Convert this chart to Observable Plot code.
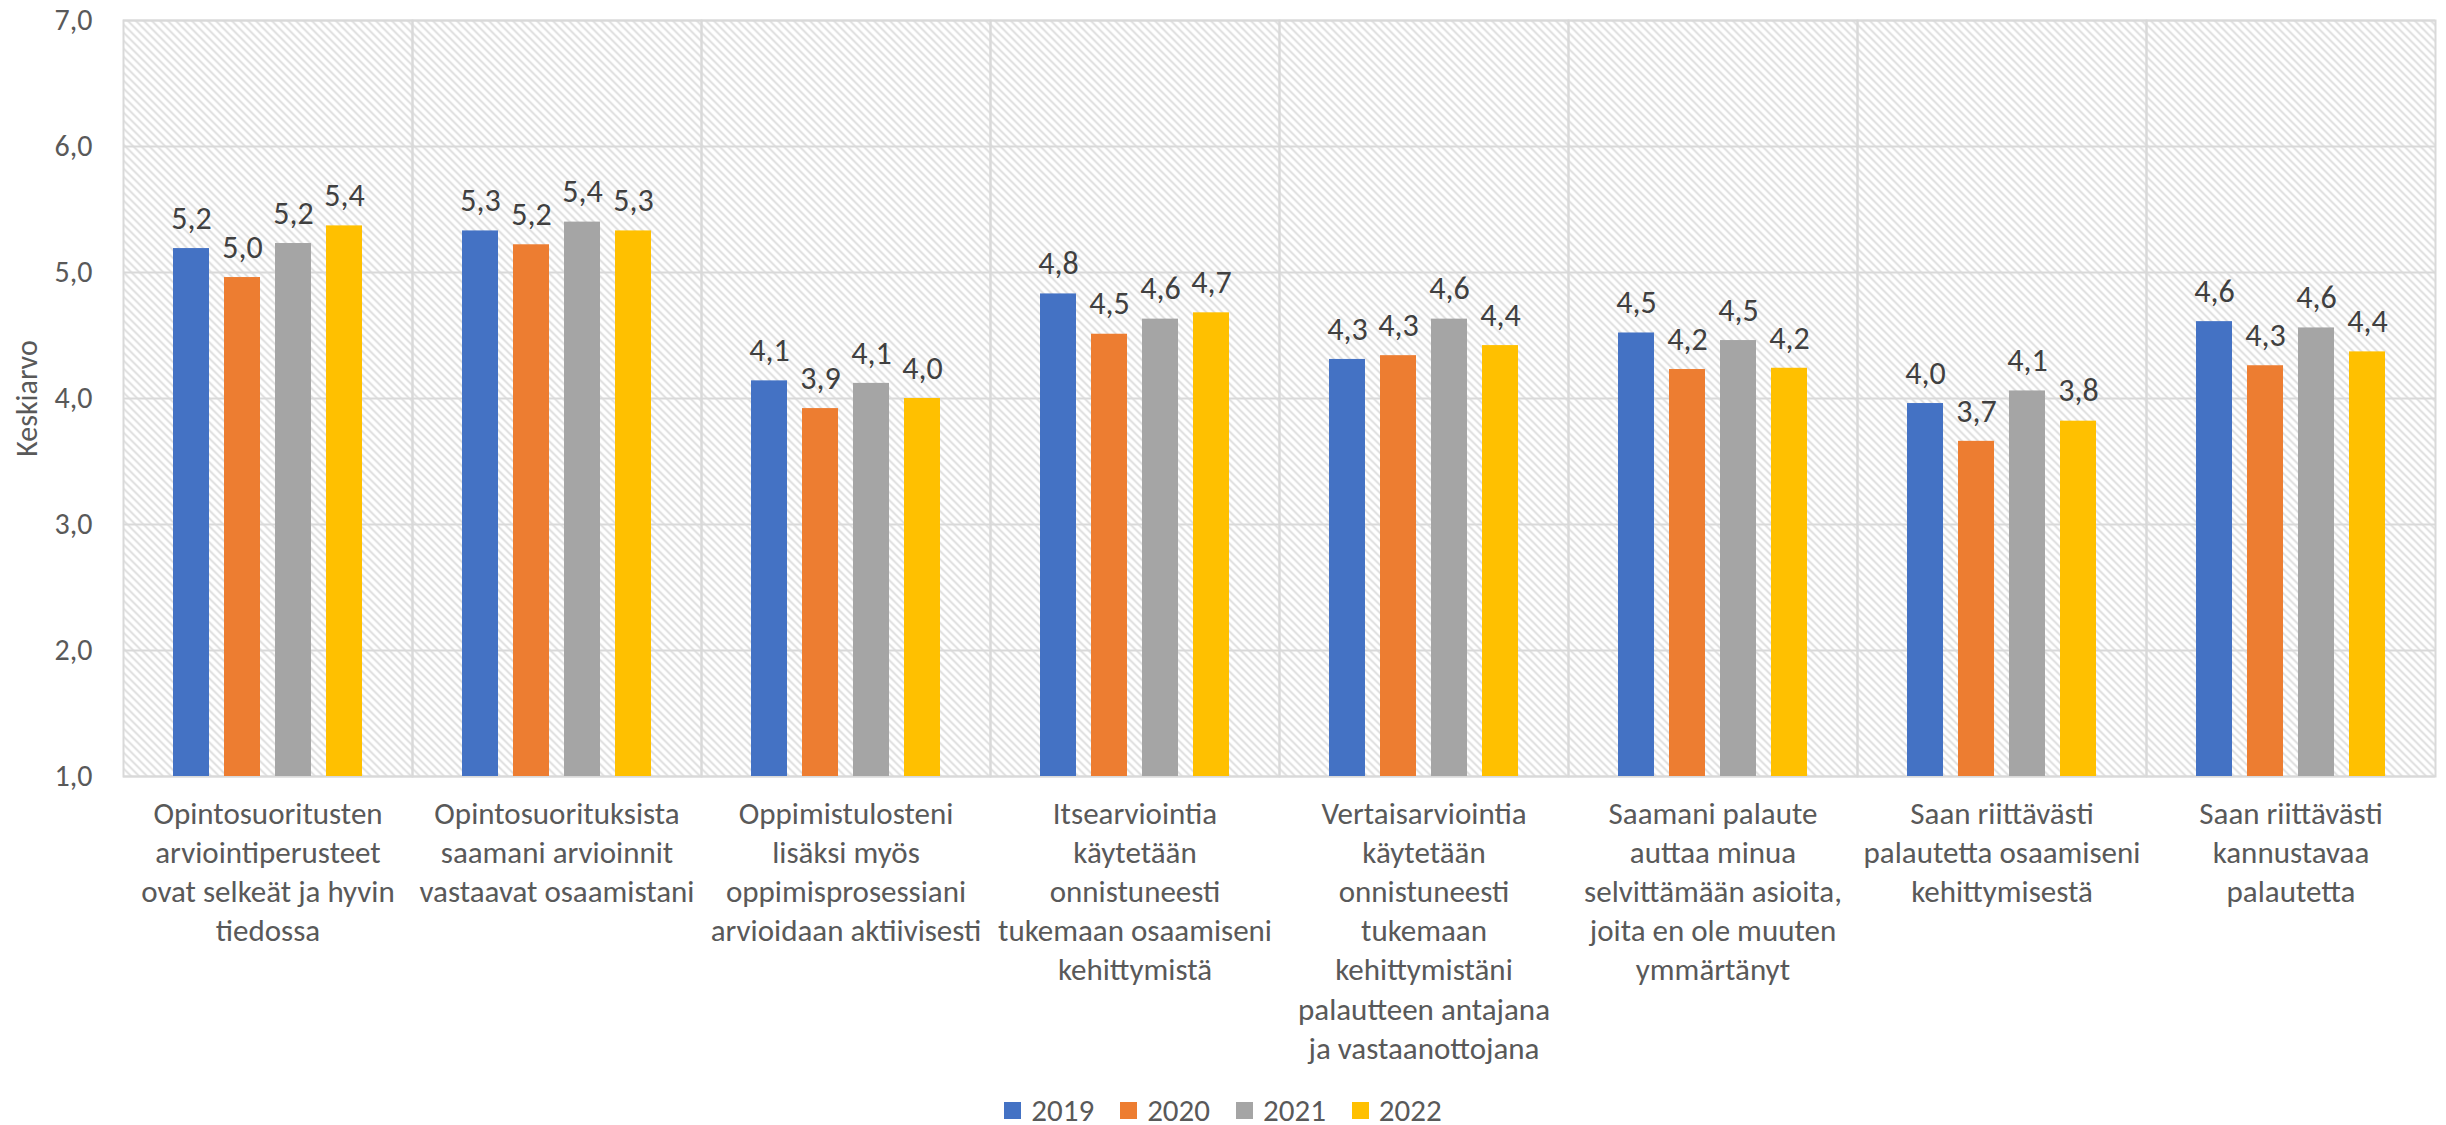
<!DOCTYPE html>
<html>
<head>
<meta charset="utf-8">
<script src="https://cdn.jsdelivr.net/npm/d3@7"></script>
<script src="https://cdn.jsdelivr.net/npm/@observablehq/plot@0.6"></script>
<style>
  body { margin: 0; background: #fff; font-family: Calibri, Carlito, Lato, sans-serif; }
  #chart svg { display: block; }
  #legend { display: flex; justify-content: center; align-items: center; height: 30px; padding-top: 5px;
            font-family: Calibri, Carlito, Lato, sans-serif; font-size: 31px; color: #595959; }
  #legend .item { display: flex; align-items: center; margin: 0 13px; }
  #legend .sw { width: 17px; height: 17px; margin-right: 10px; }
</style>
</head>
<body>
<div id="chart"></div>
<div id="legend"></div>
<script>
const categories = [
  "Opintosuoritusten\narviointiperusteet\novat selkeät ja hyvin\ntiedossa",
  "Opintosuorituksista\nsaamani arvioinnit\nvastaavat osaamistani",
  "Oppimistulosteni\nlisäksi myös\noppimisprosessiani\narvioidaan aktiivisesti",
  "Itsearviointia\nkäytetään\nonnistuneesti\ntukemaan osaamiseni\nkehittymistä",
  "Vertaisarviointia\nkäytetään\nonnistuneesti\ntukemaan\nkehittymistäni\npalautteen antajana\nja vastaanottojana",
  "Saamani palaute\nauttaa minua\nselvittämään asioita,\njoita en ole muuten\nymmärtänyt",
  "Saan riittävästi\npalautetta osaamiseni\nkehittymisestä",
  "Saan riittävästi\nkannustavaa\npalautetta"
];
const years = ["2019", "2020", "2021", "2022"];
const colors = ["#4472C4", "#ED7D31", "#A5A5A5", "#FFC000"];
const v2019 = [5.19, 5.33, 4.14, 4.83, 4.31, 4.52, 3.96, 4.61];
const v2020 = [4.96, 5.22, 3.92, 4.51, 4.34, 4.23, 3.66, 4.26];
const v2021 = [5.23, 5.40, 4.12, 4.63, 4.63, 4.46, 4.06, 4.56];
const v2022 = [5.37, 5.33, 4.00, 4.68, 4.42, 4.24, 3.82, 4.37];
const yTicks = [1, 2, 3, 4, 5, 6, 7];
const yLabel = "Keskiarvo";

const series = [v2019, v2020, v2021, v2022];
const data = [];
categories.forEach((c, i) => {
  years.forEach((y, j) => data.push({category: c, year: y, value: series[j][i]}));
});
const fmt = d => d.toFixed(1).replace(".", ",");
const yMin = yTicks[0];
const font = "Calibri, Carlito, Lato, sans-serif";

const chart = Plot.plot({
  width: 2446,
  height: 1090,
  marginLeft: 120,
  marginRight: 9,
  marginTop: 20,
  marginBottom: 314,
  style: {fontFamily: font, fontSize: "30px", background: "#fff"},
  fx: {domain: categories, paddingInner: 0, paddingOuter: 0, axis: null, label: null},
  x: {domain: years, paddingInner: 0.3, paddingOuter: 0.94, axis: null},
  y: {domain: [yTicks[0], yTicks[yTicks.length - 1]], axis: null},
  color: {domain: years, range: colors},
  marks: [
    Plot.frame({fill: "url(#hatch)"}),
    Plot.gridY(yTicks, {stroke: "#d9d9d9", strokeOpacity: 1, strokeWidth: 2}),
    Plot.frame({stroke: "#d9d9d9", strokeWidth: 2}),
    Plot.barY(data, {fx: "category", x: "year", y1: () => yMin, y2: "value", fill: "year"}),
    Plot.text(data, {fx: "category", x: "year", y: "value", text: d => fmt(d.value),
      dy: -30, fontSize: 32, fill: "#404040"}),
    Plot.axisY(yTicks, {tickFormat: fmt, tickSize: 0, tickPadding: 31, fontSize: 30, color: "#595959",
      label: yLabel, labelAnchor: "center", labelOffset: 108, labelArrow: "none"}),
    Plot.axisFx({anchor: "bottom", tickSize: 0, tickPadding: 20, fontSize: 31, color: "#595959",
      lineHeight: 1.26, lineAnchor: "top", label: null})
  ]
});

const svg = d3.select(chart.tagName.toLowerCase() === "svg" ? chart : chart.querySelector("svg"));
const defs = svg.insert("defs", ":first-child");
const pat = defs.append("pattern").attr("id", "hatch").attr("patternUnits", "userSpaceOnUse")
  .attr("width", 8).attr("height", 8);
pat.append("rect").attr("width", 8).attr("height", 8).attr("fill", "#ffffff");
pat.append("path").attr("d", "M-2,-2L10,10M-2,6L2,10M6,-2L10,2")
  .attr("stroke", "#d9d9d9").attr("stroke-width", 1.6).attr("fill", "none");

svg.selectAll("text").filter(function () { return this.textContent === yLabel; })
  .attr("font-size", 30).style("font-size", "30px");

document.getElementById("chart").appendChild(chart);

const legend = d3.select("#legend");
years.forEach((y, i) => {
  const item = legend.append("div").attr("class", "item");
  item.append("div").attr("class", "sw").style("background", colors[i]);
  item.append("span").text(y);
});
</script>
</body>
</html>
